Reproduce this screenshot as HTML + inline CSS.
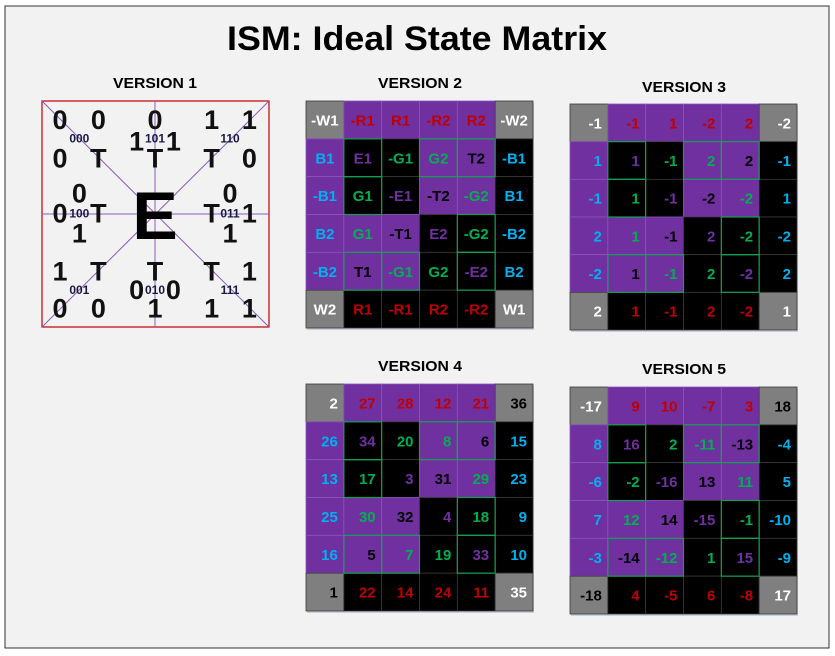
<!DOCTYPE html>
<html><head><meta charset="utf-8"><style>
html,body{margin:0;padding:0;background:#fff;}
svg{display:block;font-family:"Liberation Sans",sans-serif;}
</style></head><body>
<svg id="s" width="835" height="656" viewBox="0 0 835 656">
<rect x="5" y="6" width="824" height="642" fill="#f2f2f2" stroke="#333" stroke-width="1"/>
<text x="417" y="50" text-anchor="middle" font-size="34" font-weight="bold" textLength="380" lengthAdjust="spacingAndGlyphs">ISM: Ideal State Matrix</text>
<text x="155" y="88" text-anchor="middle" font-size="15" font-weight="bold" textLength="84" lengthAdjust="spacingAndGlyphs">VERSION 1</text>
<text x="420" y="88" text-anchor="middle" font-size="15" font-weight="bold" textLength="84" lengthAdjust="spacingAndGlyphs">VERSION 2</text>
<text x="684" y="92" text-anchor="middle" font-size="15" font-weight="bold" textLength="84" lengthAdjust="spacingAndGlyphs">VERSION 3</text>
<text x="420" y="371" text-anchor="middle" font-size="15" font-weight="bold" textLength="84" lengthAdjust="spacingAndGlyphs">VERSION 4</text>
<text x="684" y="374" text-anchor="middle" font-size="15" font-weight="bold" textLength="84" lengthAdjust="spacingAndGlyphs">VERSION 5</text>
<g id="v1">
<rect x="42" y="101" width="227" height="226" fill="#f2f2f2" stroke="#c00000" stroke-width="1.2"/>
<line x1="42" y1="101" x2="269" y2="327" stroke="#8a5cc0" stroke-width="1"/>
<line x1="269" y1="101" x2="42" y2="327" stroke="#8a5cc0" stroke-width="1"/>
<line x1="155" y1="101" x2="155" y2="327" stroke="#8a5cc0" stroke-width="1"/>
<line x1="42" y1="214" x2="269" y2="214" stroke="#8a5cc0" stroke-width="1"/>
</g>
</svg>
<script>
const NS='http://www.w3.org/2000/svg';
const svg=document.getElementById('s');
// Version 1 glyphs: [text, zoomX, zoomY, small]
const v1Glyphs=[["0",60,75],["0",175,75],["000",118,130,1],["0",60,190],["T",175,190],
["0",345,75],["1",290,140],["101",345,130,1],["1",400,140],["T",345,190],
["1",515,75],["1",628,75],["110",570,130,1],["T",515,190],["0",628,190],
["0",118,295],["0",60,355],["100",118,355,1],["T",175,355],["1",118,415],
["0",570,295],["T",515,355],["011",570,355,1],["1",628,355],["1",570,415],
["1",60,530],["T",175,530],["001",118,585,1],["0",60,640],["0",175,640],
["T",345,530],["0",290,585],["010",345,585,1],["0",400,585],["1",345,640],
["T",515,530],["1",628,530],["111",570,585,1],["1",515,640],["1",628,640]];
const v1=document.getElementById('v1');
v1Glyphs.forEach(g=>{const t=document.createElementNS(NS,'text');
t.setAttribute('x',g[1]/3+40);t.setAttribute('y',g[2]/3+95);
t.setAttribute('text-anchor','middle');t.setAttribute('dominant-baseline','central');
t.setAttribute('font-size',g[3]?12:27);t.setAttribute('font-weight','bold');
t.setAttribute('fill',g[3]?'#1a1a40':'#111');


t.textContent=g[0];v1.appendChild(t);});
{const t=document.createElementNS(NS,'text');t.setAttribute('x',155);t.setAttribute('y',216);
t.setAttribute('text-anchor','middle');t.setAttribute('dominant-baseline','central');
t.setAttribute('font-size',68);t.setAttribute('font-weight','bold');t.textContent='E';


v1.appendChild(t);}

const bgPattern=["gppppg","pbbppb","pbbppb","pppbbb","pppbbb","gbbbbg"];
const colPattern=["wrrrrw","cPGGKc","cGPKGc","cGKPGc","cKGGPc","wrrrrw"];
const greenBoxes=[[1,1],[2,1],[1,3],[1,4],[3,4],[4,4],[4,1],[4,2]];
const v2Labels=[["-W1","-R1","R1","-R2","R2","-W2"],["B1","E1","-G1","G2","T2","-B1"],["-B1","G1","-E1","-T2","-G2","B1"],["B2","G1","-T1","E2","-G2","-B2"],["-B2","T1","-G1","G2","-E2","B2"],["W2","R1","-R1","R2","-R2","W1"]];
const v3Labels=[["-1","-1","1","-2","2","-2"],["1","1","-1","2","2","-1"],["-1","1","-1","-2","-2","1"],["2","1","-1","2","-2","-2"],["-2","1","-1","2","-2","2"],["2","1","-1","2","-2","1"]];
const v4Labels=[["2","27","28","12","21","36"],["26","34","20","8","6","15"],["13","17","3","31","29","23"],["25","30","32","4","18","9"],["16","5","7","19","33","10"],["1","22","14","24","11","35"]];
const v5Labels=[["-17","9","10","-7","3","18"],["8","16","2","-11","-13","-4"],["-6","-2","-16","13","11","5"],["7","12","14","-15","-1","-10"],["-3","-14","-12","1","15","-9"],["-18","4","-5","6","-8","17"]];
const v4Corners={"0,5":"#000","5,0":"#000"};
const v5Corners={"0,5":"#000","5,0":"#000"};
const BG={g:"#7f7f7f",p:"#7030a0",b:"#000"};
const FG={w:"#fff",r:"#c00000",c:"#00b0f0",P:"#7030a0",G:"#00b050",K:"#000"};

function grid(name,x0,y0,w,h,labels,center,corners){
  const g=document.createElementNS(NS,'g');
  
  
  svg.appendChild(g);
  const cw=w/6,ch=h/6;
  const sh=document.createElementNS(NS,'rect');
  sh.setAttribute('x',x0+1);sh.setAttribute('y',y0+2);sh.setAttribute('width',w);sh.setAttribute('height',h);sh.setAttribute('fill','#c8d0dc');
  
  
  g.appendChild(sh);
  for(let r=0;r<6;r++)for(let c=0;c<6;c++){
    const rc=document.createElementNS(NS,'rect');
    rc.setAttribute('x',x0+c*cw);rc.setAttribute('y',y0+r*ch);rc.setAttribute('width',cw);rc.setAttribute('height',ch);
    const b=bgPattern[r][c];
    rc.setAttribute('fill',BG[b]);
    rc.setAttribute('stroke',b==='p'?'#8a55b8':'#3a3a3a');rc.setAttribute('stroke-width','0.8');
    
    
    g.appendChild(rc);
  }
  greenBoxes.forEach(([r,c])=>{const rc=document.createElementNS(NS,'rect');
    rc.setAttribute('x',x0+c*cw);rc.setAttribute('y',y0+r*ch);rc.setAttribute('width',cw);rc.setAttribute('height',ch);
    rc.setAttribute('fill','none');rc.setAttribute('stroke','#14a050');rc.setAttribute('stroke-width','1.2');
    
    
    g.appendChild(rc);});
  for(let r=0;r<6;r++)for(let c=0;c<6;c++){
    const t=document.createElementNS(NS,'text');
    let col=FG[colPattern[r][c]];
    if(corners&&corners[r+','+c])col=corners[r+','+c];
    t.setAttribute('fill',col);
    t.setAttribute('font-size','15');t.setAttribute('font-weight','bold');
    t.setAttribute('dominant-baseline','central');
    if(center){t.setAttribute('x',x0+c*cw+cw/2);t.setAttribute('text-anchor','middle');}
    else{t.setAttribute('x',x0+c*cw+cw-6);t.setAttribute('text-anchor','end');}
    t.setAttribute('y',y0+r*ch+ch/2+1);
    
    
    t.textContent=labels[r][c];g.appendChild(t);
  }
}
grid('version-2-matrix',306,101,227,227,v2Labels,true,null);
grid('version-3-matrix',570,104,227,226,v3Labels,false,null);
grid('version-4-matrix',306,384,227,227,v4Labels,false,v4Corners);
grid('version-5-matrix',570,387,227,227,v5Labels,false,v5Corners);
</script>
</body></html>
